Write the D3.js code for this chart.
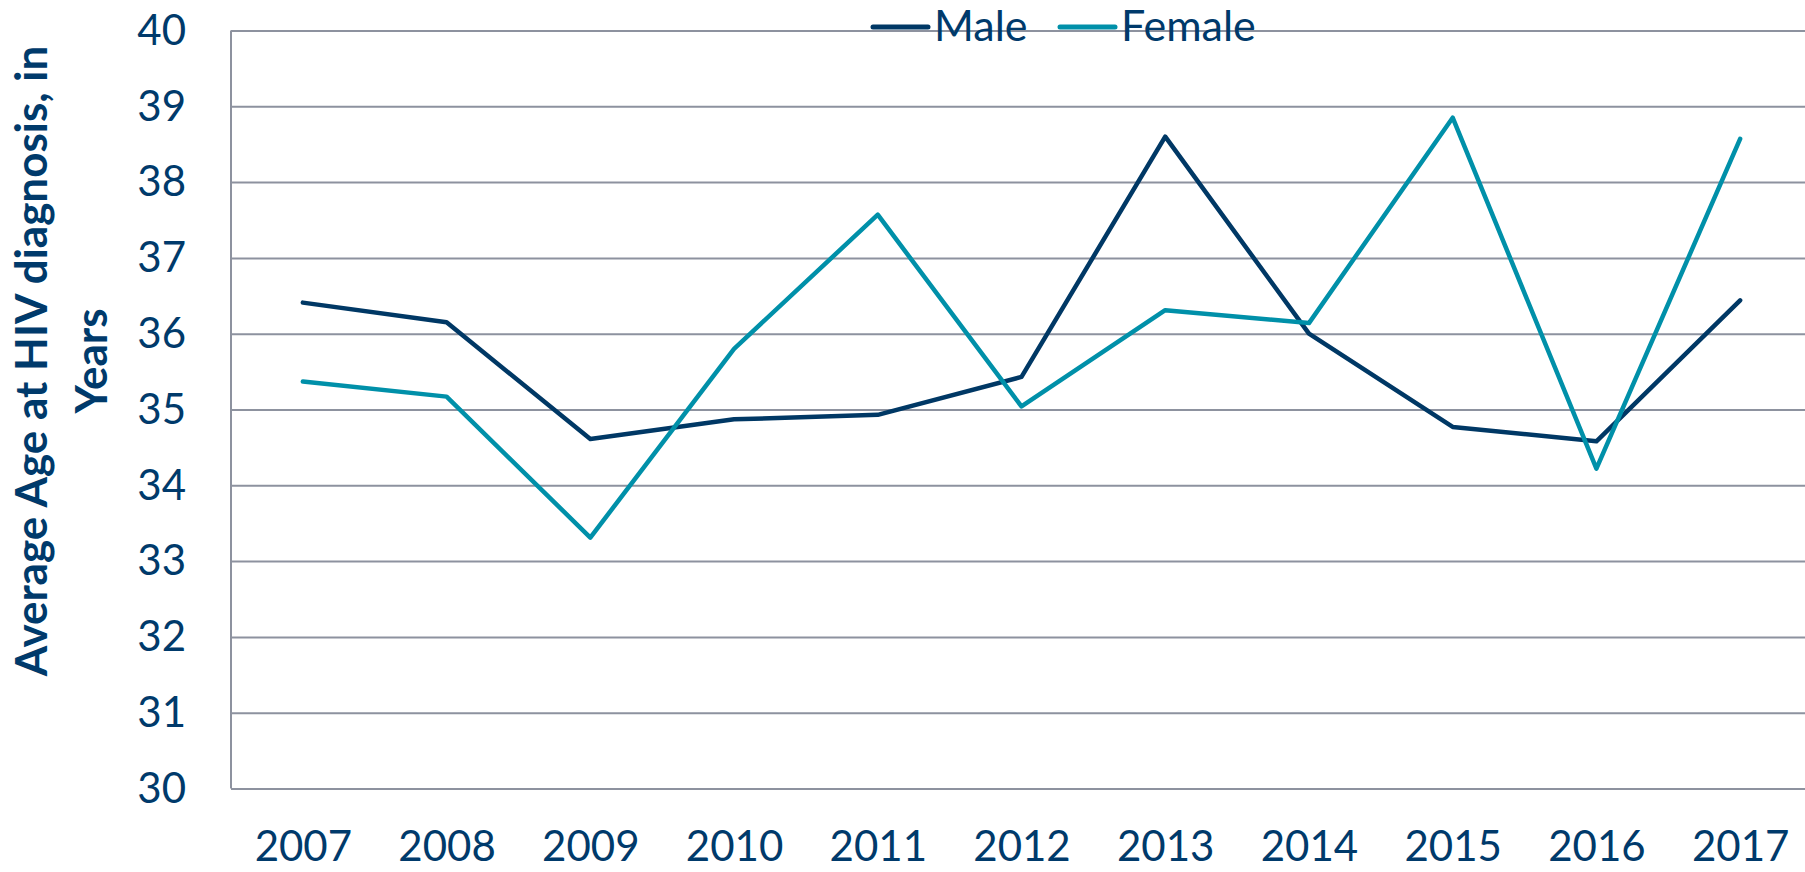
<!DOCTYPE html>
<html>
<head>
<meta charset="utf-8">
<script src="https://cdn.jsdelivr.net/npm/d3@7"></script>
<style>
  body { margin: 0; background: #fff; }
  svg { display: block; }
  svg text { font-family: Lato, "Open Sans", sans-serif; }
</style>
</head>
<body>
<div id="chart"></div>
<script>
const years = ['2007', '2008', '2009', '2010', '2011', '2012', '2013', '2014', '2015', '2016', '2017'];
const maleAge = [36.41, 36.15, 34.61, 34.87, 34.93, 35.43, 38.60, 36.00, 34.77, 34.58, 36.44];
const femaleAge = [35.37, 35.17, 33.31, 35.80, 37.57, 35.04, 36.31, 36.14, 38.85, 34.22, 38.57];
const yTicks = [30, 31, 32, 33, 34, 35, 36, 37, 38, 39, 40];

const width = 1805, height = 872;
const plot = {left: 231, right: 1812, top: 30.5, bottom: 788.5};
const textColor = '#003a6b';
const gridColor = '#8d929f';

const series = [
  {name: 'Male', values: maleAge, color: '#003865'},
  {name: 'Female', values: femaleAge, color: '#0090a9'}
];

const svg = d3.select('#chart')
  .append('svg')
    .attr('width', width)
    .attr('height', height);

const x = d3.scalePoint()
  .domain(years)
  .range([plot.left, plot.right])
  .padding(0.5);

const y = d3.scaleLinear()
  .domain([30, 40])
  .range([plot.bottom, plot.top]);

// gridlines + y labels
const yAxis = svg.append('g')
  .attr('transform', 'translate(' + plot.left + ',0)')
  .call(d3.axisLeft(y).tickValues(yTicks).tickSize(-(plot.right - plot.left)).tickPadding(45));
yAxis.attr('font-family', null).attr('font-size', null);
yAxis.select('.domain').remove();
yAxis.selectAll('.tick line')
  .attr('stroke', gridColor)
  .attr('stroke-width', 2);
yAxis.selectAll('.tick text')
  .attr('fill', textColor)
  .style('font-size', '42px')
  .attr('dy', '0.33em');

svg.append('line')
  .attr('x1', plot.left).attr('x2', plot.left)
  .attr('y1', plot.top).attr('y2', plot.bottom)
  .attr('stroke', gridColor)
  .attr('stroke-width', 2);

// x labels
const xAxis = svg.append('g')
  .attr('transform', 'translate(0,' + plot.bottom + ')')
  .call(d3.axisBottom(x).tickSize(0).tickPadding(43));
xAxis.attr('font-family', null).attr('font-size', null);
xAxis.select('.domain').remove();
xAxis.selectAll('.tick text')
  .attr('fill', textColor)
  .style('font-size', '42px');

// lines
const line = d3.line()
  .x((d, i) => x(years[i]))
  .y((d) => y(d));

svg.selectAll('path.series')
  .data(series).enter().append('path')
  .attr('class', 'series')
  .attr('d', (d) => line(d.values))
  .attr('fill', 'none')
  .attr('stroke', (d) => d.color)
  .attr('stroke-width', 4.5)
  .attr('stroke-linejoin', 'round')
  .attr('stroke-linecap', 'round');

// y title, two lines
const title = svg.append('text')
  .attr('transform', 'translate(32,361) rotate(-90)')
  .attr('text-anchor', 'middle')
  .attr('fill', textColor)
  .style('font-size', '44px')
  .style('font-weight', 'bold');
title.append('tspan').attr('x', 0).attr('dy', 15).text('Average Age at HIV diagnosis, in');
title.append('tspan').attr('x', 0).attr('dy', 60).text('Years');

// legend
const legendX = [873, 1060];
const legend = svg.selectAll('g.legend')
  .data(series).enter().append('g')
  .attr('class', 'legend')
  .attr('transform', (d, i) => 'translate(' + legendX[i] + ',27)');
legend.append('line')
  .attr('x1', 0).attr('x2', 55)
  .attr('stroke', (d) => d.color)
  .attr('stroke-width', 5)
  .attr('stroke-linecap', 'round');
legend.append('text')
  .attr('x', 61)
  .attr('y', 14)
  .attr('fill', textColor)
  .style('font-size', '43px')
  .text((d) => d.name);
</script>
</body>
</html>
